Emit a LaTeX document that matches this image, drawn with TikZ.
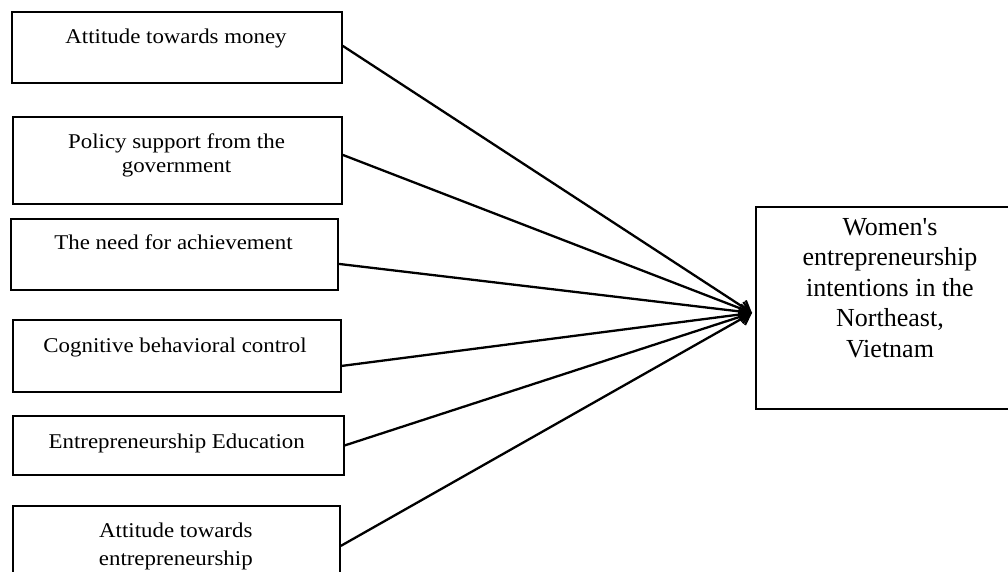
\documentclass[tikz,border=0pt]{standalone}
\usepackage{fontspec}
\setmainfont{Liberation Serif}
\newfontfamily\leftfont[FakeStretch=1.09]{Liberation Serif}
\usetikzlibrary{arrows.meta}
\begin{document}
\begin{tikzpicture}[x=1pt,y=-1pt,
  boxstyle/.style={draw,line width=1.8pt,rectangle,anchor=north west,inner sep=0pt},
  lefttext/.style={font=\leftfont\fontsize{21}{24}\selectfont,align=center,anchor=base,inner sep=0pt},
  righttext/.style={font=\fontsize{26}{30.5}\selectfont,align=center,anchor=base,inner sep=0pt},
  conn/.style={line width=2.3pt,-{Straight Barb[length=10pt,width=14pt]}}]
\useasboundingbox (0,0) rectangle (1008,571);
\clip (0,0) rectangle (1008,571);
\node[boxstyle,minimum width=330pt,minimum height=71pt] (b1) at (11,11) {};
\node[boxstyle,minimum width=329pt,minimum height=87pt] (b2) at (12,116) {};
\node[boxstyle,minimum width=327pt,minimum height=71pt] (b3) at (10,218) {};
\node[boxstyle,minimum width=328pt,minimum height=72pt] (b4) at (12,319) {};
\node[boxstyle,minimum width=331pt,minimum height=59pt] (b5) at (12,415) {};
\node[boxstyle,minimum width=327pt,minimum height=75pt] (b6) at (12,505) {};
\node[boxstyle,minimum width=270pt,minimum height=202pt] (tgt) at (755,206) {};
\node[lefttext] (t1) at (176,43) {Attitude towards money};
\node[lefttext] (t2) at (176.5,172) {Policy support from the\\government};
\node[lefttext] (t3) at (173.5,249) {The need for achievement};
\node[lefttext] (t4) at (175,352) {Cognitive behavioral control};
\node[lefttext] (t5) at (176.7,448) {Entrepreneurship Education};
\node[lefttext,font=\leftfont\fontsize{21}{28}\selectfont] (t6) at (175.8,565) {Attitude towards\\entrepreneurship};
\node[righttext] (tt) at (890,357) {Women\textquotesingle s\\entrepreneurship\\intentions in the\\Northeast,\\Vietnam};
\coordinate (tip) at ([yshift=-5pt,xshift=-3pt]tgt.west);
\draw[conn] ([yshift=1.5pt]b1.east) -- (tip);
\draw[conn] ([yshift=5.5pt]b2.east) -- (tip);
\draw[conn] ([yshift=-9.5pt]b3.east) -- (tip);
\draw[conn] ([yshift=-10pt]b4.east) -- (tip);
\draw[conn] (b5.east) -- (tip);
\draw[conn] ([yshift=-2.5pt]b6.east) -- (tip);
\end{tikzpicture}
\end{document}
